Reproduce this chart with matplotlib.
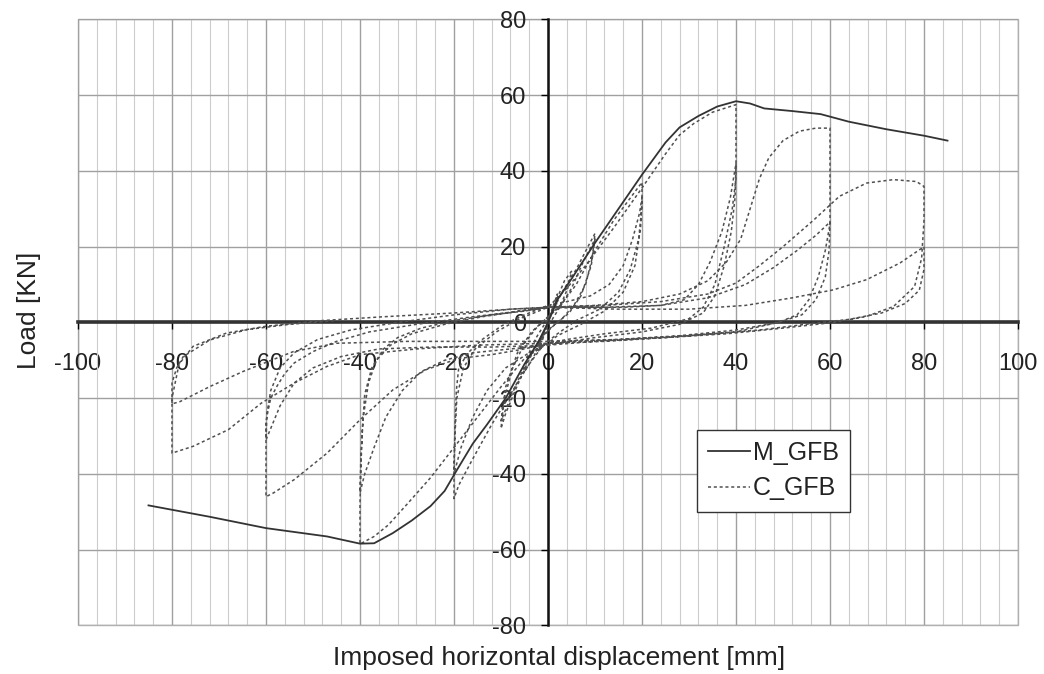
import matplotlib.pyplot as plt
from matplotlib.patches import Rectangle
import numpy as np

plt.rcParams['font.family'] = ['Liberation Sans', 'DejaVu Sans']
plt.rcParams['axes.unicode_minus'] = False

# monotonic test M_GFB (displacement mm, load kN)
m_x = [-85, -72, -60, -47, -40, -37, -33, -29, -25, -22, -19.4, -16, -13, -9, -5, -2,
       0, 2, 5, 10, 15, 20, 25, 28, 32, 36, 40, 43, 46, 52, 58, 64, 72, 80, 85]
m_y = [-48.3, -51.3, -54.3, -56.5, -58.4, -58.3, -55.6, -52.3, -48.5, -44.5, -39, -32, -27, -20, -11, -5,
       0, 6, 11.5, 21, 30, 39, 47.5, 51.5, 54.5, 57, 58.4, 57.8, 56.5, 55.8, 55, 53, 51, 49.3, 48]

# cyclic test C_GFB, grouped by amplitude (x, y) pairs
c_small = [(0, 0), (1, 4), (2, 7.5), (1.6, 4.5), (0.5, 1.5), (-0.5, -1.5), (-1, -4), (-2, -7.5),
           (-1.6, -4.5), (-0.5, -1.5), (0.5, 2), (2, 6.5), (3.5, 11), (5, 13.5), (4.2, 9), (2.5, 4),
           (0.5, 0), (-1, -3), (-3, -9), (-5, -13), (-4.2, -8.5), (-2.5, -4), (-0.5, 0)]
c_10 = [(-0.5, 0), (1, 3), (3, 8), (6, 14), (8.5, 20), (10, 23.5), (9.4, 17), (8, 10), (5.5, 4.5),
        (3, 1), (0.5, -1.5), (-2, -5), (-4.5, -11), (-7, -18), (-9, -24), (-10, -28), (-9.3, -20),
        (-7.5, -12), (-5, -5.5), (-2.5, -1.5), (0, 1.5), (2.5, 4), (5, 9), (7.5, 16), (10, 22),
        (9.2, 15), (7, 7), (4.5, 2.5), (1.5, -0.5), (-1.5, -4), (-4, -9), (-7, -17), (-10, -26),
        (-9, -17), (-6.5, -8), (-3.5, -2.5), (0, 1.5)]
c_20 = [(0, 1.5), (3, 5), (6, 10), (10, 19), (14, 27), (17, 32), (20, 37), (20, 31), (19.3, 22),
        (17.5, 14), (15, 8), (11, 3.5), (6, 0.5), (2, -3), (-1, -6), (-4, -11), (-8, -19), (-12, -27),
        (-16, -36), (-19, -43), (-20, -46.5), (-20, -38), (-19.8, -28), (-19.5, -18), (-19, -12),
        (-17, -8), (-14, -4.5), (-10, -1), (-6, 1.5), (-2, 3.5), (0, 4.5), (4, 5.5), (9, 7), (13, 10),
        (16, 15), (18, 22), (19.5, 29), (20, 33), (19.7, 25), (18.5, 15), (16, 8), (12, 3), (7, -0.5),
        (2, -3.5), (0, -5.5), (-4, -8), (-9, -12), (-13, -18), (-16, -25), (-18.5, -33), (-20, -40),
        (-19.8, -30), (-19.4, -20), (-18, -12), (-15.5, -7), (-11, -2.5), (-6, 1), (-1, 3.5), (0, 4)]
c_40 = [(0, 4), (4, 9), (8, 15), (14, 25), (20, 35.5), (25, 44.5), (28, 49.5), (31, 52.5), (35, 55.5),
        (40, 57.5), (40, 48), (40, 38), (39.2, 30), (37.5, 20), (35.5, 10), (33, 4), (30, 1), (22, -1.5),
        (12, -3), (4, -4.5), (0, -5.5), (-5, -9.5), (-10, -17), (-15, -25), (-20, -33), (-25, -41),
        (-30, -48), (-34, -53.5), (-37, -56.5), (-40, -58.5), (-40, -48), (-39.8, -38), (-39.5, -28),
        (-39, -19), (-37.5, -12), (-35, -7), (-32, -4), (-27, -1.5), (-20, 0.5), (-12, 2), (-5, 3),
        (0, 4), (8, 4), (16, 4), (24, 4.5), (29, 6), (32, 10), (34.5, 16), (37, 24), (38.8, 33),
        (40, 42), (39.8, 33), (39, 24), (37.5, 15), (35.5, 7), (33, 2.5), (28, -0.5), (20, -2.5),
        (10, -4), (2, -5.5), (0, -6), (-8, -7), (-16, -8), (-22, -10), (-27, -13), (-31, -18),
        (-34.5, -25), (-37, -33), (-39, -40), (-40, -45), (-39.8, -35), (-39.3, -25), (-38.2, -16),
        (-36.5, -10), (-33.5, -6), (-29, -3), (-22, -0.5), (-14, 1.5), (-6, 3), (0, 4)]
c_60 = [(0, 4), (10, 4.5), (20, 5.5), (28, 7.5), (34, 11), (38, 16), (41, 22), (43, 30), (45, 38),
        (47, 43.5), (50, 48), (53.5, 50.5), (57, 51.3), (60, 51.3), (60, 42), (60, 33), (60, 26),
        (59, 19), (57.5, 12), (55.5, 6), (53, 2), (49, 0), (40, -2), (28, -3.5), (15, -4.5), (5, -5),
        (0, -5.5), (-5, -7), (-12, -8.5), (-19, -9.5), (-26, -12.5), (-33, -17.8), (-40, -25.7),
        (-47, -34.5), (-54, -41.5), (-58.4, -45), (-60, -46), (-60, -36), (-60, -26), (-59, -20),
        (-57.7, -16.9), (-56, -13.5), (-54, -10.7), (-50, -7.7), (-45, -5), (-38, -2.5), (-28, -0.5),
        (-16, 1.5), (-6, 3), (0, 4), (12, 4), (24, 4.5), (34, 6.5), (42, 10), (48, 14.5), (53, 19),
        (57, 23), (60, 26.5), (59.8, 19), (59, 12), (57, 6), (54, 2), (49, 0), (40, -2.5), (25, -4),
        (10, -5), (0, -6), (-12, -6.5), (-25, -6.5), (-36, -7), (-44, -9), (-50, -12), (-54, -16),
        (-57, -22), (-59, -28), (-60, -31), (-59.8, -24), (-59, -18), (-57, -12), (-54, -8),
        (-49, -4.5), (-42, -2), (-32, 0), (-20, 2), (-8, 3.5), (0, 4)]
c_80 = [(0, 4), (12, 4.5), (24, 5.5), (34, 7.5), (40, 10.4), (45, 15), (50, 20), (56.5, 27), (62, 33.3),
        (67.8, 36.8), (73.5, 37.7), (78.4, 37.2), (80, 35.9), (80, 27), (79.5, 17), (78, 9.5),
        (73.5, 4.2), (67.8, 1.6), (60.7, 0), (50, -1.5), (38, -3), (25, -4), (12, -5), (0, -5.5),
        (-15, -6), (-28, -7), (-40, -8.5), (-47, -11.6), (-54, -16), (-61, -21.3), (-68, -28.3),
        (-75.5, -32.7), (-80, -34.5), (-80, -27), (-80, -20), (-78.5, -11), (-75.5, -6.3),
        (-68.4, -2.8), (-60, -1), (-48, 0.5), (-35, 1.5), (-20, 2.5), (-8, 3.5), (0, 4), (15, 3.5),
        (30, 3.5), (42, 4.5), (52, 6.5), (60.7, 8.6), (67.8, 11.3), (74.9, 15.7), (80, 20), (80, 14),
        (79, 8.5), (76, 5), (71, 2.5), (64, 0.8), (58, 0), (45, -2), (30, -3.5), (15, -4.5), (0, -5),
        (-15, -5), (-30, -5), (-45, -5.5), (-54.2, -7.7), (-64.8, -12.9), (-71.9, -16.9),
        (-78.3, -20.9), (-80, -21.5), (-80, -16), (-79, -12), (-77.6, -9), (-71.9, -4.6),
        (-64.1, -1.9), (-55, -0.5), (-45, 0.5)]

c_path = np.array(c_small + c_10 + c_20 + c_40 + c_60 + c_80)

fig = plt.figure(figsize=(10.44, 6.74), dpi=100)
ax = fig.add_axes([0.0747, 0.072, 0.9004, 0.8992])

ax.plot(m_x, m_y, color="#333333", lw=1.3, label="M_GFB", zorder=4)
ax.plot(c_path[:, 0], c_path[:, 1], color="#505050", lw=1.1, ls=(0, (2, 1.8)),
        label="C_GFB", zorder=3)

ax.set_xlim(-100, 100)
ax.set_ylim(-80, 80)
ax.set_xticks(np.arange(-100, 101, 20))
ax.set_xticks(np.arange(-100, 101, 4), minor=True)
ax.set_yticks(np.arange(-80, 81, 20))
ax.grid(which="major", color="#a0a0a0", lw=1)
ax.grid(which="minor", axis="x", color="#cccccc", lw=0.8)
ax.set_axisbelow(True)

for side in ["top", "right"]:
    ax.spines[side].set_visible(False)
ax.spines["left"].set_position("zero")
ax.spines["bottom"].set_position("zero")
ax.spines["left"].set_linewidth(1.8)
ax.spines["bottom"].set_linewidth(2.6)
ax.spines["left"].set_color("#111111")
ax.spines["bottom"].set_color("#333333")
ax.add_patch(Rectangle((0, 0), 1, 1, transform=ax.transAxes, fill=False,
                       ec="#b0b0b0", lw=1, clip_on=False, zorder=0))

ax.tick_params(axis="x", which="major", direction="out", length=5, width=1,
               pad=17, labelsize=17, labelcolor="#222222")
ax.tick_params(axis="x", which="minor", length=0)
ax.tick_params(axis="y", direction="out", length=5, width=1,
               pad=11, labelsize=17, labelcolor="#222222")

fig.text(0.5355, 1 - 658 / 674, "Imposed horizontal displacement [mm]",
         ha="center", va="center", fontsize=19, color="#222222")
fig.text(0.028, 1 - 310 / 674, "Load [KN]", rotation=90,
         ha="center", va="center", fontsize=19, color="#222222")

leg = ax.legend(loc="upper left", bbox_to_anchor=(0.658, 0.3226), fontsize=18,
                fancybox=False, edgecolor="#333333", framealpha=1, handlelength=1.7,
                borderpad=0.45, labelspacing=0.45, handletextpad=0.1, borderaxespad=0)
leg.get_frame().set_linewidth(1)
for t in leg.get_texts():
    t.set_color("#222222")

fig.savefig("out.png", dpi=100)
